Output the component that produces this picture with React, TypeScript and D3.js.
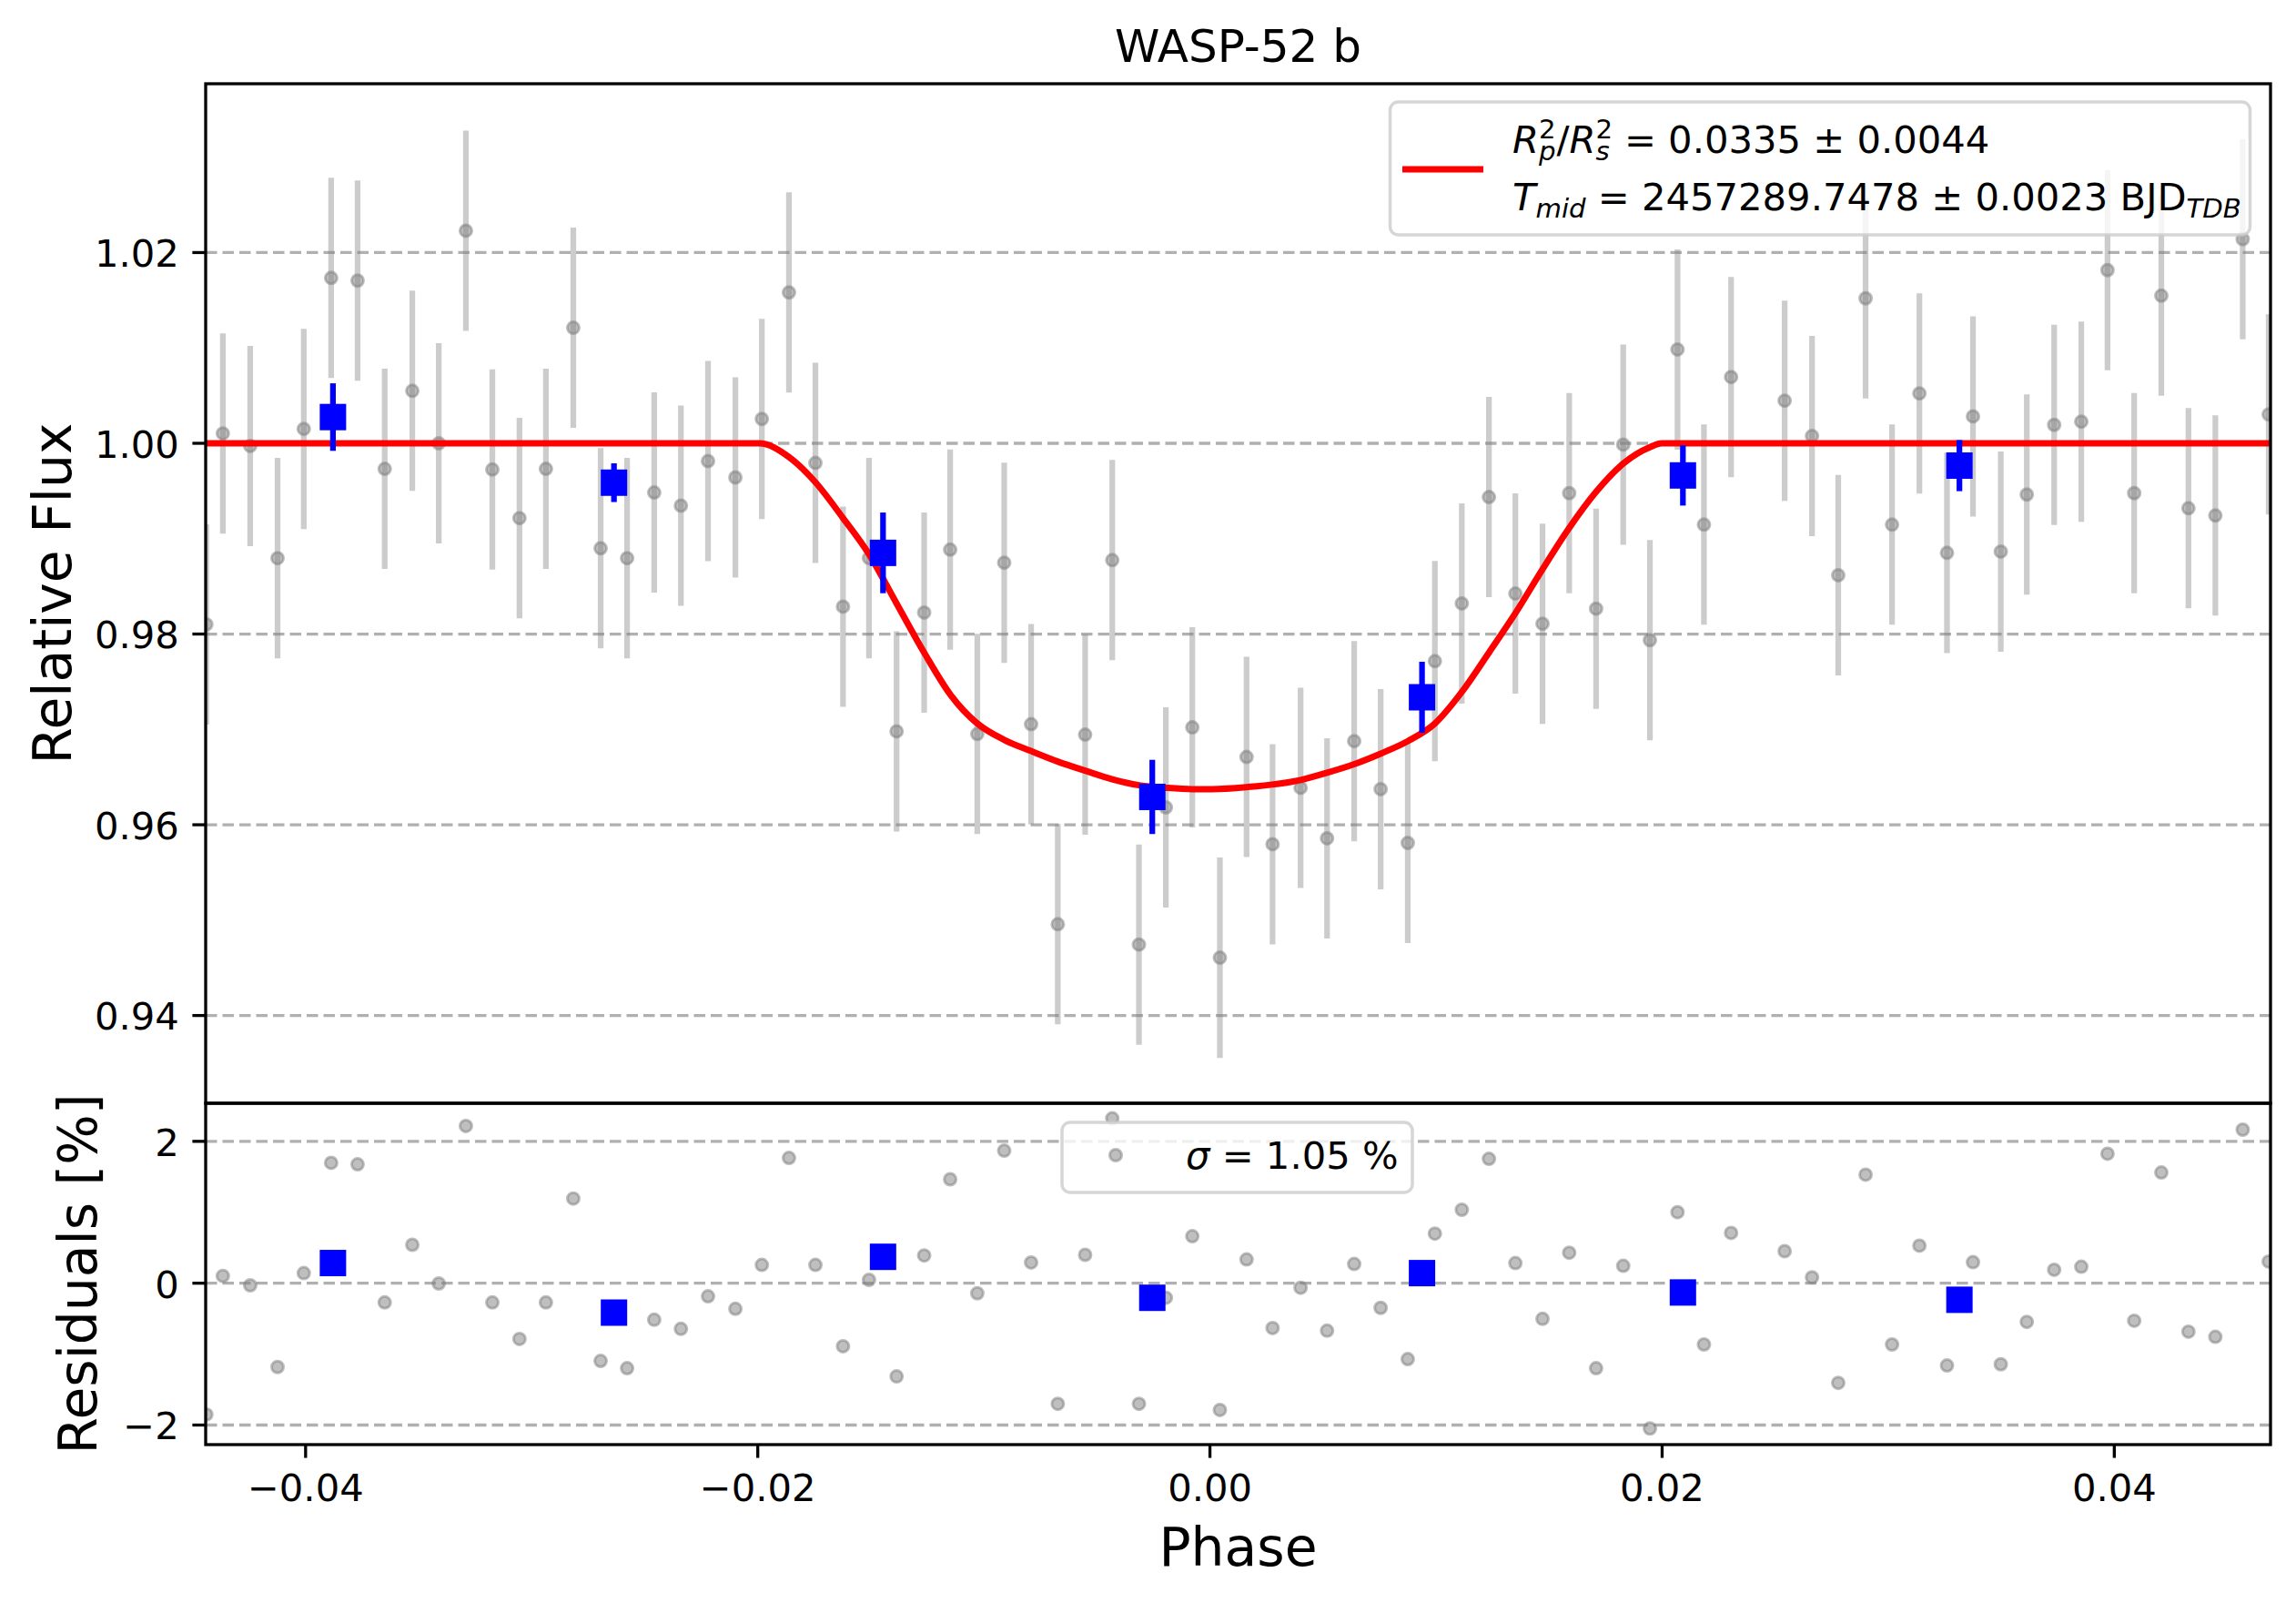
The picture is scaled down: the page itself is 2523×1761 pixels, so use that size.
import * as d3 from "d3"

// unbinned points (one missing at ~0.0242)
const phase = [
  -0.04439, -0.04366, -0.04245, -0.04124, -0.04008, -0.03887, -0.0377, -0.0365, -0.03528, -0.03411,
  -0.03291, -0.03174, -0.03054, -0.02937, -0.02816, -0.02695, -0.02578, -0.02458, -0.0234, -0.0222,
  -0.02099, -0.01982, -0.01862, -0.01745, -0.01623, -0.01508, -0.01386, -0.01264, -0.01149, -0.01029,
  -0.0091, -0.00791, -0.00673, -0.00552, -0.00432, -0.00314, -0.00195, -0.00078, 0.00044, 0.00162,
  0.00277, 0.00401, 0.00518, 0.00638, 0.00755, 0.00875, 0.00995, 0.01114, 0.01234, 0.01351,
  0.01471, 0.01589, 0.01708, 0.01828, 0.01946, 0.02068, 0.02185, 0.02305, 0.02542, 0.02663,
  0.02779, 0.029, 0.03017, 0.03138, 0.0326, 0.03375, 0.03498, 0.03613, 0.03734, 0.03854,
  0.0397, 0.04088, 0.04208, 0.04328, 0.04447, 0.04568, 0.04683,
]
const flux = [
  0.98101, 1.00103, 0.99972, 0.98796, 1.00151, 1.01734, 1.01706, 0.99732, 1.0055, 1.0,
  1.02229, 0.99725, 0.99216, 0.99732, 1.01211, 0.98899, 0.98796, 0.99484, 0.99346, 0.99814,
  0.99642, 1.00255, 1.01582, 0.99794, 0.98287, 0.98796, 0.9698, 0.98225, 0.98885, 0.96952,
  0.98748, 0.97055, 0.94957, 0.96945, 0.98775, 0.94744, 0.96182, 0.97021, 0.94606, 0.96711,
  0.95796, 0.96388, 0.95858, 0.96877, 0.96374, 0.9581, 0.97716, 0.98321, 0.99436, 0.98424,
  0.98108, 0.99477, 0.98266, 0.99986, 0.97936, 1.00984, 0.99147, 1.00695, 1.00447, 1.00076,
  0.98617, 1.0152, 0.99147, 1.00523, 0.98851, 1.00282, 0.98865, 0.99463, 1.00193, 1.00227,
  1.01816, 0.99477, 1.01548, 0.99319, 0.99243, 1.0214, 1.00303,
]
const fluxErr = 0.0105
const resid = [
  -1.852, 0.103, -0.03, -1.182, 0.142, 1.697, 1.676, -0.271, 0.541, -0.004,
  2.217, -0.271, -0.786, -0.271, 1.194, -1.096, -1.199, -0.516, -0.644, -0.185,
  -0.361, 0.258, 1.766, 0.258, -0.889, 0.047, -1.315, 0.391, 1.465, -0.142,
  1.869, 0.292, -1.701, 0.4, 2.324, -1.701, -0.206, 0.662, -1.787, 0.335,
  -0.632, -0.064, -0.67, 0.271, -0.348, -1.07, 0.7, 1.035, 1.753, 0.284,
  -0.503, 0.43, -1.199, 0.245, -2.049, 1.001, -0.864, 0.709, 0.451, 0.082,
  -1.405, 1.53, -0.864, 0.529, -1.16, 0.296, -1.143, -0.545, 0.189, 0.232,
  1.826, -0.529, 1.561, -0.683, -0.756, 2.165, 0.305,
]

// binned points
const binPhase = [-0.03879, -0.02636, -0.01446, -0.00255, 0.00938, 0.02092, 0.03315]
const binFlux = [1.00275, 0.99587, 0.98851, 0.96292, 0.97337, 0.99663, 0.99766]
const binErr = [0.00354, 0.00203, 0.00423, 0.00389, 0.00372, 0.00316, 0.00268]
const binResid = [0.284, -0.415, 0.372, -0.206, 0.142, -0.131, -0.234]

// transit model
const modelPhase = [
  -0.0444, -0.01993, -0.01862, -0.01746, -0.01623, -0.01508, -0.01386, -0.01264, -0.01146, -0.01029,
  -0.0091, -0.00791, -0.00673, -0.00552, -0.00432, -0.00314, -0.00195, -0.00078, 0.0001, 0.00162,
  0.00401, 0.00518, 0.00638, 0.00755, 0.00875, 0.00995, 0.01114, 0.01234, 0.01351, 0.01471,
  0.01589, 0.01708, 0.01828, 0.01946, 0.01998, 0.0469,
]
const modelFlux = [
  1.0, 1.0, 0.99856, 0.99594, 0.99216, 0.98837, 0.9832, 0.97805, 0.97358, 0.97062,
  0.9689, 0.96773, 0.96663, 0.96567, 0.96477, 0.96415, 0.96388, 0.96374, 0.96374, 0.96395,
  0.9647, 0.96546, 0.96636, 0.96746, 0.96877, 0.97062, 0.97392, 0.97805, 0.98218, 0.98679,
  0.99112, 0.99491, 0.99787, 0.99959, 1.0, 1.0,
]

const xTicks = [-0.04, -0.02, 0, 0.02, 0.04]
const xTickLabels = ["\u22120.04", "\u22120.02", "0.00", "0.02", "0.04"]
const fluxTicks = [0.94, 0.96, 0.98, 1.0, 1.02]
const fluxTickLabels = ["0.94", "0.96", "0.98", "1.00", "1.02"]
const residTicks = [-2, 0, 2]
const residTickLabels = ["\u22122", "0", "2"]

const W = 2523
const H = 1761
const left = 226
const right = 2495
const top = 92
const mid = 1212
const bottom = 1587
const font = "DejaVu Sans"
const fs = 41.7
const tick = 14.6
const spine = 3.3
const gridColor = "#b0b0b0"

function Dot({cx, cy}: {cx: number; cy: number}) {
  return (
    <circle
      cx={cx}
      cy={cy}
      r={6.5}
      fill="gray"
      fillOpacity={0.5}
      stroke="gray"
      strokeOpacity={0.5}
      strokeWidth={3}
    />
  )
}

export default function App() {
  const x = d3.scaleLinear().domain([-0.04442, 0.04691]).range([left, right])
  const y = d3.scaleLinear().domain([0.9308, 1.0377]).range([mid, top])
  const yr = d3.scaleLinear().domain([-2.276, 2.537]).range([bottom, mid])

  const line = d3
    .line<number>()
    .x((d, i) => x(modelPhase[i]))
    .y((d) => y(d))
    .curve(d3.curveMonotoneX)

  const sq = 29
  const small = fs * 0.7

  return (
    <svg
      width={W}
      height={H}
      viewBox={`0 0 ${W} ${H}`}
      style={{position: "absolute", left: 0, top: 0, background: "white"}}
      fontFamily={font}
    >
      <defs>
        <clipPath id="clipMain">
          <rect x={left} y={top} width={right - left} height={mid - top} />
        </clipPath>
        <clipPath id="clipRes">
          <rect x={left} y={mid} width={right - left} height={bottom - mid} />
        </clipPath>
      </defs>
      <rect width={W} height={H} fill="white" />

      {/* title */}
      <text x={(left + right) / 2} y={68} fontSize={50} textAnchor="middle">
        WASP-52 b
      </text>

      {/* main panel */}
      <g className="grid">
        {fluxTicks.map((t) => (
          <line
            key={t}
            x1={left}
            x2={right}
            y1={y(t)}
            y2={y(t)}
            stroke={gridColor}
            strokeWidth={3.3}
            strokeDasharray="12.5 6"
          />
        ))}
      </g>
      <g clipPath="url(#clipMain)">
        {phase.map((p, i) => (
          <line
            key={"e" + i}
            x1={x(p)}
            x2={x(p)}
            y1={y(flux[i] - fluxErr)}
            y2={y(flux[i] + fluxErr)}
            stroke="gray"
            strokeOpacity={0.4}
            strokeWidth={6.25}
          />
        ))}
        {phase.map((p, i) => (
          <Dot key={"d" + i} cx={x(p)} cy={y(flux[i])} />
        ))}
        <path d={line(modelFlux) ?? ""} fill="none" stroke="red" strokeWidth={7} />
        {binPhase.map((p, i) => (
          <g key={"b" + i}>
            <line
              x1={x(p)}
              x2={x(p)}
              y1={y(binFlux[i] - binErr[i])}
              y2={y(binFlux[i] + binErr[i])}
              stroke="blue"
              strokeWidth={6.25}
            />
            <rect x={x(p) - sq / 2} y={y(binFlux[i]) - sq / 2} width={sq} height={sq} fill="blue" />
          </g>
        ))}
      </g>

      {/* main legend */}
      <g>
        <rect
          x={1527.5}
          y={112}
          width={945}
          height={146}
          rx={9}
          fill="white"
          fillOpacity={0.8}
          stroke="#cccccc"
          strokeOpacity={0.8}
          strokeWidth={3.5}
        />
        <line x1={1541} x2={1630} y1={186} y2={186} stroke="red" strokeWidth={7} />
        <text x={1662} y={168.4} fontSize={fs} style={{whiteSpace: "pre"}}>
          <tspan fontStyle="italic">R</tspan>
          <tspan fontSize={small} dy={-16}>2</tspan>
          <tspan fontSize={small} fontStyle="italic" dx={-18.6} dy={24}>p</tspan>
          <tspan dy={-8} dx={1}>/</tspan>
          <tspan fontStyle="italic">R</tspan>
          <tspan fontSize={small} dy={-16}>2</tspan>
          <tspan fontSize={small} fontStyle="italic" dx={-18.6} dy={24}>s</tspan>
          <tspan dy={-8} dx={3}>{" = 0.0335 \u00b1 0.0044"}</tspan>
        </text>
        <text x={1662} y={231.2} fontSize={fs} style={{whiteSpace: "pre"}}>
          <tspan fontStyle="italic">T</tspan>
          <tspan fontSize={small} fontStyle="italic" dy={8}>mid</tspan>
          <tspan dy={-8}>{" = 2457289.7478 \u00b1 0.0023 BJD"}</tspan>
          <tspan fontSize={small} fontStyle="italic" dy={8}>TDB</tspan>
        </text>
      </g>

      {/* main y axis */}
      {fluxTicks.map((t, i) => (
        <g key={"yt" + t}>
          <line x1={left - tick} x2={left} y1={y(t)} y2={y(t)} stroke="black" strokeWidth={spine} />
          <text x={left - tick - 14.6} y={y(t)} dy="0.38em" fontSize={fs} textAnchor="end">
            {fluxTickLabels[i]}
          </text>
        </g>
      ))}
      <text
        transform={`translate(78, ${(top + mid) / 2}) rotate(-90)`}
        fontSize={58.3}
        textAnchor="middle"
      >
        Relative Flux
      </text>
      <rect x={left} y={top} width={right - left} height={mid - top} fill="none" stroke="black" strokeWidth={spine} />

      {/* residual panel */}
      {residTicks.map((t) => (
        <line
          key={"rg" + t}
          x1={left}
          x2={right}
          y1={yr(t)}
          y2={yr(t)}
          stroke={gridColor}
          strokeWidth={3.3}
          strokeDasharray="12.5 6"
        />
      ))}
      <g clipPath="url(#clipRes)">
        {phase.map((p, i) => (
          <Dot key={"r" + i} cx={x(p)} cy={yr(resid[i])} />
        ))}
        {binPhase.map((p, i) => (
          <rect key={"rb" + i} x={x(p) - sq / 2} y={yr(binResid[i]) - sq / 2} width={sq} height={sq} fill="blue" />
        ))}
      </g>

      {/* residual legend */}
      <g>
        <rect
          x={1167}
          y={1233}
          width={385}
          height={77}
          rx={9}
          fill="white"
          fillOpacity={0.8}
          stroke="#cccccc"
          strokeOpacity={0.8}
          strokeWidth={3.5}
        />
        <Dot cx={1226} cy={1269} />
        <text x={1303} y={1284} fontSize={fs} style={{whiteSpace: "pre"}}>
          <tspan fontStyle="italic">σ</tspan>
          <tspan>{" = 1.05 %"}</tspan>
        </text>
      </g>

      {residTicks.map((t, i) => (
        <g key={"rt" + t}>
          <line x1={left - tick} x2={left} y1={yr(t)} y2={yr(t)} stroke="black" strokeWidth={spine} />
          <text x={left - tick - 14.6} y={yr(t)} dy="0.38em" fontSize={fs} textAnchor="end">
            {residTickLabels[i]}
          </text>
        </g>
      ))}
      <text
        transform={`translate(106, ${(mid + bottom) / 2}) rotate(-90)`}
        fontSize={58.3}
        textAnchor="middle"
      >
        Residuals [%]
      </text>

      {/* x axis */}
      {xTicks.map((t, i) => (
        <g key={"xt" + t}>
          <line x1={x(t)} x2={x(t)} y1={bottom} y2={bottom + tick} stroke="black" strokeWidth={spine} />
          <text x={x(t)} y={1649} fontSize={fs} textAnchor="middle">
            {xTickLabels[i]}
          </text>
        </g>
      ))}
      <text x={(left + right) / 2} y={1720} fontSize={58.3} textAnchor="middle">
        Phase
      </text>
      <rect x={left} y={mid} width={right - left} height={bottom - mid} fill="none" stroke="black" strokeWidth={spine} />
    </svg>
  )
}
